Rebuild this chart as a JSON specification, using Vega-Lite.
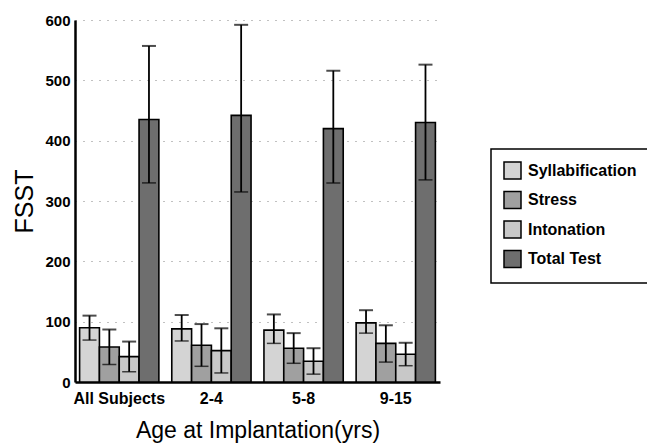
{
  "$schema": "https://vega.github.io/schema/vega-lite/v6.json",
  "autosize": "none",
  "width": 365,
  "height": 362,
  "padding": {"left": 75, "top": 20, "right": 207, "bottom": 65},
  "background": "white",
  "config": {
    "font": "Liberation Sans",
    "view": {"stroke": null},
    "axis": {"labelFont": "Liberation Sans", "titleFont": "Liberation Sans"}
  },
  "data": {
    "values": [
      {"group": "All Subjects", "measure": "Syllabification", "mean": 90, "lo": 69.5, "hi": 110},
      {"group": "All Subjects", "measure": "Stress", "mean": 58, "lo": 29, "hi": 87},
      {"group": "All Subjects", "measure": "Intonation", "mean": 42, "lo": 17, "hi": 67},
      {"group": "All Subjects", "measure": "Total Test", "mean": 435, "lo": 330, "hi": 557},
      {"group": "2-4", "measure": "Syllabification", "mean": 88, "lo": 68, "hi": 111},
      {"group": "2-4", "measure": "Stress", "mean": 61, "lo": 26, "hi": 96},
      {"group": "2-4", "measure": "Intonation", "mean": 52, "lo": 15, "hi": 89},
      {"group": "2-4", "measure": "Total Test", "mean": 442, "lo": 315, "hi": 592},
      {"group": "5-8", "measure": "Syllabification", "mean": 86, "lo": 64, "hi": 112},
      {"group": "5-8", "measure": "Stress", "mean": 56, "lo": 31, "hi": 81},
      {"group": "5-8", "measure": "Intonation", "mean": 34.5, "lo": 13, "hi": 56},
      {"group": "5-8", "measure": "Total Test", "mean": 420, "lo": 330, "hi": 516},
      {"group": "9-15", "measure": "Syllabification", "mean": 98, "lo": 81, "hi": 119},
      {"group": "9-15", "measure": "Stress", "mean": 64, "lo": 33, "hi": 94},
      {"group": "9-15", "measure": "Intonation", "mean": 46, "lo": 27, "hi": 65},
      {"group": "9-15", "measure": "Total Test", "mean": 430, "lo": 335, "hi": 526}
    ]
  },
  "encoding": {
    "x": {
      "field": "group",
      "type": "nominal",
      "sort": ["All Subjects", "2-4", "5-8", "9-15"],
      "scale": {"paddingInner": 0.14, "paddingOuter": 0.05},
      "axis": {
        "title": "Age at Implantation(yrs)",
        "titleFontSize": 23,
        "titleFontWeight": "normal",
        "titlePadding": 13,
        "labelFontSize": 16,
        "labelFontWeight": "bold",
        "labelAngle": 0,
        "labelPadding": 8,
        "labelColor": "black",
        "ticks": false,
        "domainColor": "black",
        "domainWidth": 2.5
      }
    },
    "xOffset": {
      "field": "measure",
      "type": "nominal",
      "sort": ["Syllabification", "Stress", "Intonation", "Total Test"],
      "scale": {"paddingInner": 0, "paddingOuter": 0}
    }
  },
  "layer": [
    {
      "mark": {"type": "bar", "stroke": "black", "strokeWidth": 1.6},
      "encoding": {
        "y": {
          "field": "mean",
          "type": "quantitative",
          "scale": {"domain": [0, 600], "nice": false},
          "axis": {
            "title": "FSST",
            "titleFontSize": 25,
            "titleFontWeight": "normal",
            "titlePadding": 7,
            "values": [0, 100, 200, 300, 400, 500, 600],
            "labelFontSize": 15,
            "labelFontWeight": "bold",
            "labelColor": "black",
            "labelPadding": 5,
            "ticks": false,
            "domainColor": "black",
            "domainWidth": 2.5,
            "grid": true,
            "gridColor": "#333",
            "gridDash": [1, 7],
            "gridWidth": 1.2,
            "gridOpacity": 0.6
          }
        },
        "color": {
          "field": "measure",
          "type": "nominal",
          "sort": ["Syllabification", "Stress", "Intonation", "Total Test"],
          "scale": {
            "domain": ["Syllabification", "Stress", "Intonation", "Total Test"],
            "range": ["#d4d4d4", "#a0a0a0", "#c8c8c8", "#6e6e6e"]
          },
          "legend": {
            "title": null,
            "orient": "none",
            "legendX": 416,
            "legendY": 129,
            "strokeColor": "black",
            "padding": 12,
            "symbolType": "square",
            "symbolSize": 289,
            "symbolStrokeColor": "black",
            "symbolStrokeWidth": 1.5,
            "symbolOpacity": 1,
            "labelFontSize": 16,
            "labelFontWeight": "bold",
            "labelColor": "black",
            "labelOffset": 6,
            "rowPadding": 6.5,
            "encode": {"legend": {"update": {"strokeWidth": {"value": 1.5}}}}
          }
        }
      }
    },
    {
      "mark": {"type": "rule", "color": "black", "strokeWidth": 1.8},
      "encoding": {
        "y": {"field": "lo", "type": "quantitative"},
        "y2": {"field": "hi"}
      }
    },
    {
      "mark": {"type": "tick", "color": "black", "size": 14, "thickness": 2},
      "encoding": {
        "y": {"field": "hi", "type": "quantitative"}
      }
    },
    {
      "mark": {"type": "tick", "color": "black", "size": 14, "thickness": 1.5},
      "encoding": {
        "y": {"field": "lo", "type": "quantitative"}
      }
    }
  ]
}
